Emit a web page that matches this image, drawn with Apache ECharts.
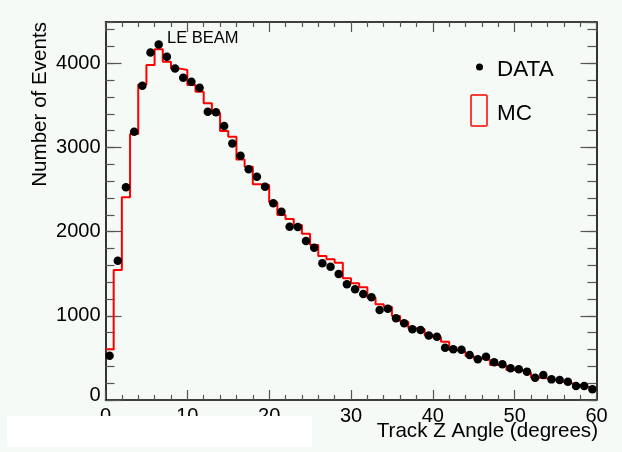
<!DOCTYPE html>
<html>
<head>
<meta charset="utf-8">
<script src="https://cdn.jsdelivr.net/npm/echarts@6/dist/echarts.min.js"></script>
<style>
html,body{margin:0;padding:0;background:#f5faf7;}
#chart{width:622px;height:452px;}
</style>
</head>
<body>
<div id="chart"></div>
<script>
// Bin lower edges 0..59 (1 degree bins)
const binEdges = [0,1,2,3,4,5,6,7,8,9,10,11,12,13,14,15,16,17,18,19,20,21,22,23,24,25,26,27,28,29,
  30,31,32,33,34,35,36,37,38,39,40,41,42,43,44,45,46,47,48,49,50,51,52,53,54,55,56,57,58,59];
const dataValues = [526,1654,2526,3187,3733,4129,4224,4077,3939,3828,3781,3709,3424,3417,3254,3048,2902,2740,2652,2534,
  2336,2236,2058,2055,1890,1809,1623,1583,1496,1374,1315,1259,1220,1069,1085,970,911,840,831,765,
  750,622,602,598,534,483,515,447,424,376,364,337,265,297,245,238,218,166,166,127];
const mcValues = [602,1544,2407,3159,3749,3979,4165,4018,3939,3919,3741,3662,3524,3405,3195,3127,2858,2771,2562,2553,
  2348,2197,2150,2078,1975,1841,1710,1671,1631,1445,1386,1338,1215,1136,1108,998,930,851,839,772,
  744,693,594,574,523,495,475,416,404,356,348,325,265,257,238,218,198,178,158,139];
const xTickLabels = ['0','10','20','30','40','50','60'];
const yTickLabels = ['0','1000','2000','3000','4000'];
const legendLabels = ['DATA','MC'];

const FONT = '"Liberation Sans", Arial, Helvetica, sans-serif';
const chart = echarts.init(document.getElementById('chart'));

const binWidth = 1;
const scatterData = binEdges.map((e, i) => [e + binWidth / 2, dataValues[i]]);
const stepData = binEdges.map((e, i) => [e, mcValues[i]]);
stepData.push([binEdges[binEdges.length - 1] + binWidth, mcValues[mcValues.length - 1]]);

const YMAX = 4490;
function yAxisDef(pos, interval, tickLen, withLabel, withLine) {
  return {
    type: 'value', position: pos, min: 0, max: YMAX, interval: interval,
    axisLine: {show: withLine, lineStyle: {color: '#000', width: 1.6}},
    axisTick: {show: true, inside: true, length: tickLen, lineStyle: {color: '#555', width: 1.2}},
    minorTick: {show: false},
    splitLine: {show: false},
    axisLabel: withLabel ? {
      show: true, showMaxLabel: false, margin: 5, color: '#000', fontSize: 20, fontFamily: FONT,
      formatter: function (v) {
        const s = yTickLabels[Math.round(v / 1000)];
        if (s === undefined) return '';
        return v === 0 ? '{z|' + s + '}' : s;
      },
      rich: {z: {fontSize: 20, fontFamily: FONT, color: '#000', padding: [0, 0, 9, 0]}}
    } : {show: false}
  };
}
function xAxisDef(pos, withLabel) {
  return {
    type: 'value', position: pos, min: 0, max: 60, interval: 10,
    axisLine: {show: true, onZero: false, lineStyle: {color: '#000', width: 1.6}},
    axisTick: {show: true, inside: true, length: 10, lineStyle: {color: '#555', width: 1.2}},
    minorTick: {show: true, splitNumber: 5, length: 5, lineStyle: {color: '#555', width: 1.2}},
    splitLine: {show: false},
    axisLabel: withLabel ? {
      show: true, margin: 6, color: '#000', fontSize: 20, fontFamily: FONT,
      formatter: function (v) { const s = xTickLabels[Math.round(v / 10)]; return s === undefined ? '' : s; }
    } : {show: false}
  };
}

chart.setOption({
  backgroundColor: '#f5faf7',
  animation: false,
  grid: {left: 105.5, right: 25.5, top: 22, bottom: 52, containLabel: false, outerBoundsMode: 'none'},
  xAxis: [xAxisDef('bottom', true), xAxisDef('top', false)],
  yAxis: [
    yAxisDef('left', 1000, 16, true, true),
    yAxisDef('left', 200, 9, false, false),
    yAxisDef('right', 1000, 16, false, true),
    yAxisDef('right', 200, 9, false, false)
  ],
  series: [
    {
      name: 'MC', type: 'line', step: 'end', xAxisIndex: 0, yAxisIndex: 0,
      data: stepData, showSymbol: false, symbol: 'none',
      lineStyle: {color: '#ff0000', width: 2}, z: 3
    },
    {
      name: 'DATA', type: 'scatter', xAxisIndex: 0, yAxisIndex: 0,
      data: scatterData, symbol: 'circle', symbolSize: 8.5,
      itemStyle: {color: '#000', opacity: 1}, z: 4
    }
  ],
  graphic: [
    {type: 'rect', shape: {x: 7, y: 416, width: 305, height: 31}, style: {fill: '#ffffff'}, z: 100},
    {type: 'text', x: 598, y: 431,
      style: {text: 'Track Z Angle (degrees)', align: 'right', verticalAlign: 'middle', font: '20.6px ' + FONT, fill: '#000'}, z: 100},
    {type: 'text', x: 40, y: 22, rotation: Math.PI / 2,
      style: {text: 'Number of Events', align: 'right', verticalAlign: 'middle', font: '20.6px ' + FONT, fill: '#000'}, z: 100},
    {type: 'text', x: 167, y: 38,
      style: {text: 'LE BEAM', align: 'left', verticalAlign: 'middle', font: '16.5px ' + FONT, fill: '#000'}, z: 100},
    {type: 'circle', shape: {cx: 479.5, cy: 67, r: 3.5}, style: {fill: '#000'}, z: 100},
    {type: 'text', x: 497, y: 70,
      style: {text: legendLabels[0], align: 'left', verticalAlign: 'middle', font: '22.5px ' + FONT, fill: '#000'}, z: 100},
    {type: 'rect', shape: {x: 471, y: 95, width: 16, height: 31, r: 1}, style: {fill: 'none', stroke: '#ff0000', lineWidth: 1.5}, z: 100},
    {type: 'text', x: 497, y: 114,
      style: {text: legendLabels[1], align: 'left', verticalAlign: 'middle', font: '22.5px ' + FONT, fill: '#000'}, z: 100}
  ]
});
</script>
</body>
</html>
